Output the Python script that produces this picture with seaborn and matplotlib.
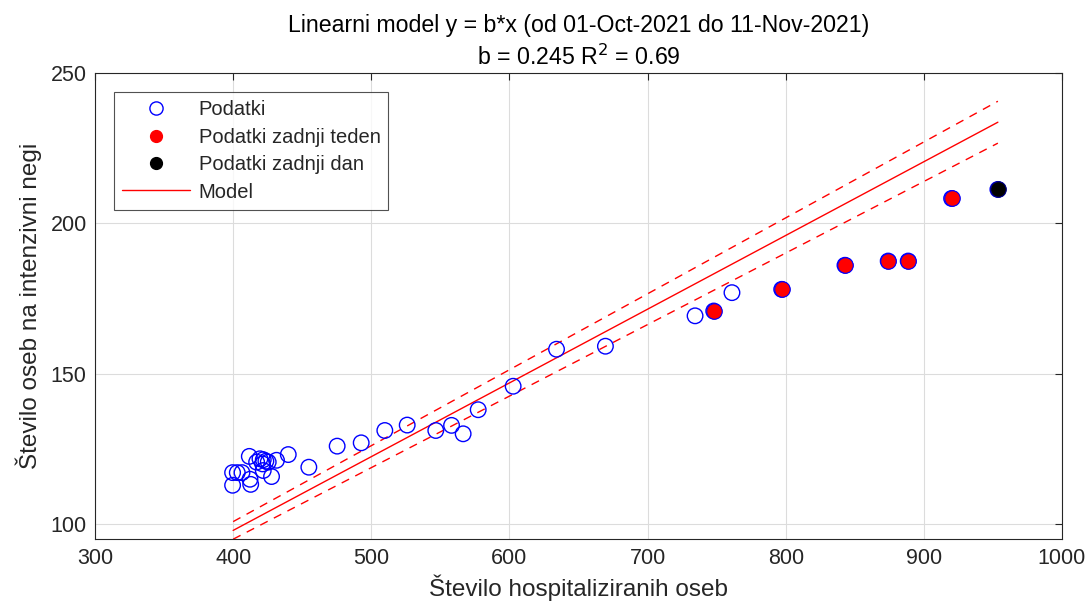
import numpy as np
import matplotlib
matplotlib.use('Agg')
import matplotlib.pyplot as plt
import seaborn as sns
from matplotlib.lines import Line2D

# Podatki (hospitalizirani, intenzivna nega)
hosp = [399.6, 399.6, 403, 406.4, 411.7, 412.2, 412.7, 417, 419.4, 421.8, 421.3,
        423.7, 425.4, 427.8, 431.4, 421.8, 439.9, 454.8, 475.3, 492.7, 509.8, 526,
        546.7, 558.1, 566.5, 577.4, 602.7, 634.1, 669.5, 734.4, 761.1]
icu = [113.0, 117.2, 117.2, 117.2, 122.6, 115.0, 113.3, 120.7, 121.8, 121.5, 120.1,
       121.0, 120.7, 115.9, 121.3, 117.9, 123.2, 119.0, 126.0, 127.1, 131.2, 133.0,
       131.2, 132.9, 130.1, 138.1, 145.9, 158.2, 159.2, 169.3, 177.0]

# zadnji teden
hosp_week = [747.9, 797.1, 842.9, 874.2, 888.7, 920.1]
icu_week = [170.9, 178.1, 186.1, 187.5, 187.5, 208.3]

# zadnji dan
hosp_day = [953.6]
icu_day = [211.3]

b = 0.245
b_lo = 0.2377
b_hi = 0.2523
r2 = 0.69

sns.set_style('white')
plt.rcParams['font.family'] = ['Liberation Sans', 'DejaVu Sans']

fig, ax = plt.subplots(figsize=(10.92, 6.13), dpi=100)
fig.subplots_adjust(left=0.087, right=0.9725, top=0.881, bottom=0.12)

all_x = hosp + hosp_week + hosp_day
all_y = icu + icu_week + icu_day
sns.scatterplot(x=all_x, y=all_y, ax=ax, s=125, facecolor='none', edgecolor='blue',
                linewidth=1.0, zorder=3)
sns.scatterplot(x=hosp_week, y=icu_week, ax=ax, s=125, color='red', edgecolor='blue',
                linewidth=0.8, zorder=4)
sns.scatterplot(x=hosp_day, y=icu_day, ax=ax, s=125, color='black', edgecolor='#000080',
                linewidth=0.8, zorder=5)

xm = np.array([400, max(all_x)])
sns.lineplot(x=xm, y=b * xm, ax=ax, color='red', linewidth=1.0, zorder=2)
sns.lineplot(x=xm, y=b_hi * xm, ax=ax, color='red', linewidth=1.0, linestyle=(0, (6, 5)), zorder=2)
sns.lineplot(x=xm, y=b_lo * xm, ax=ax, color='red', linewidth=1.0, linestyle=(0, (6, 5)), zorder=2)

ax.set_xlim(300, 1000)
ax.set_ylim(95, 250)
ax.set_xticks(range(300, 1001, 100))
ax.set_yticks([100, 150, 200, 250])
ax.grid(True, color='#dcdcdc', linewidth=0.8)
ax.set_axisbelow(True)
for sp in ax.spines.values():
    sp.set_color('#262626')
    sp.set_linewidth(0.8)
ax.tick_params(direction='in', length=5, top=True, right=True, labelsize=15.5,
               colors='#262626', labelcolor='#262626', pad=6)

ax.set_xlabel('Število hospitaliziranih oseb', fontsize=17.5, color='#262626', labelpad=4)
ax.set_ylabel('Število oseb na intenzivni negi', fontsize=17.5, color='#262626', labelpad=6)
ax.set_title('Linearni model y = b*x (od 01-Oct-2021 do 11-Nov-2021)\n'
             f'b = {b} R$^2$ = {r2}', fontsize=16.7, color='#000000', pad=6,
             linespacing=1.35)

handles = [
    Line2D([], [], marker='o', linestyle='none', markerfacecolor='none', markeredgecolor='blue',
           markersize=9.5),
    Line2D([], [], marker='o', linestyle='none', color='red', markersize=8.5),
    Line2D([], [], marker='o', linestyle='none', color='black', markersize=8.5),
    Line2D([], [], color='red', linewidth=1.0),
]
labels = ['Podatki', 'Podatki zadnji teden', 'Podatki zadnji dan', 'Model']
leg = ax.legend(handles, labels, loc='upper left', fontsize=14.5, frameon=True, fancybox=False,
                edgecolor='#262626', handlelength=3.4, handletextpad=0.4, borderpad=0.4,
                labelspacing=0.42, borderaxespad=0, bbox_to_anchor=(0.0196, 0.959))
leg.get_frame().set_linewidth(0.8)

fig.savefig('out.png', dpi=100)
